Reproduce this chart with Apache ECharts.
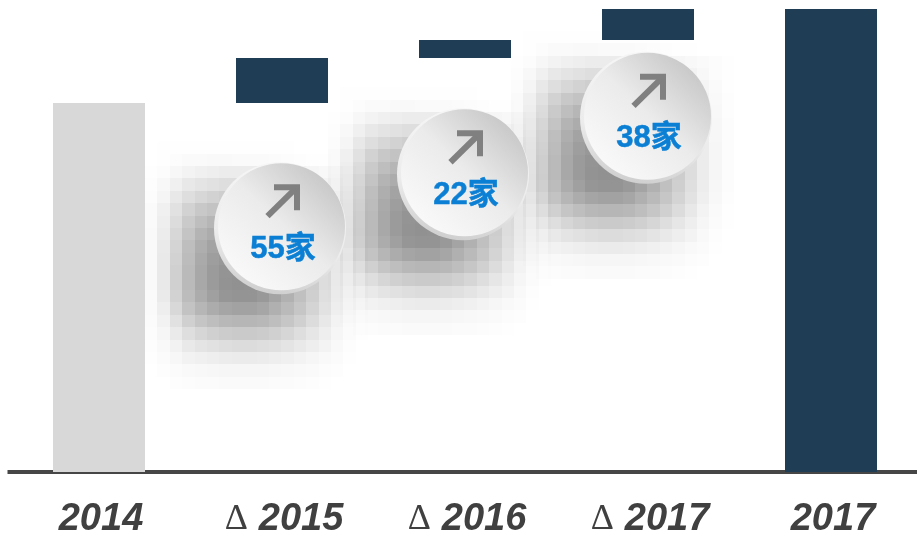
<!DOCTYPE html>
<html>
<head>
<meta charset="utf-8">
<title>chart</title>
<style>
html,body{margin:0;padding:0;background:#fff;overflow:hidden}
#main{width:917px;height:533px}
</style>
<script src="https://cdn.jsdelivr.net/npm/echarts@6/dist/echarts.min.js"></script>
</head>
<body>
<div id="main"></div>
<script>
var categories = ['2014', 'Δ 2015', 'Δ 2016', 'Δ 2017', '2017'];
var hiddenBase = [0, 451, 506, 528, 0];
var barValues = [451, 55, 22, 38, 566];
var badgeCategories = ['Δ 2015', 'Δ 2016', 'Δ 2017'];
var badgeLevels = [298, 364, 433];
var badgeTexts = ['55家', '22家', '38家'];
// grey level of each blocky shadow cell (255 = white)
var shadowGrays = [
	[255,254,254,254,254,254,254,254,254,254,254,254,255,255,255,255,255,255],
	[255,254,252,250,250,249,249,250,250,250,251,252,253,254,254,255,255,255],
	[254,252,247,243,240,238,236,236,236,236,238,240,243,246,248,250,252,254],
	[253,248,240,232,228,225,222,222,222,224,226,230,234,238,243,248,252,254],
	[252,245,232,222,215,210,206,205,205,207,210,215,222,230,238,245,250,254],
	[250,240,225,210,200,195,190,188,188,190,195,202,212,222,232,242,249,253],
	[250,238,220,202,190,182,178,175,175,178,185,193,205,216,228,240,248,253],
	[249,236,215,196,180,172,166,165,165,168,176,186,198,212,225,238,247,252],
	[249,234,212,190,174,163,157,155,155,160,170,180,194,208,223,237,247,252],
	[249,233,210,188,170,158,152,150,150,155,165,177,191,206,222,236,246,252],
	[249,233,208,186,168,155,148,146,147,152,162,175,190,205,221,236,246,252],
	[249,233,208,186,168,155,147,145,146,151,162,175,190,205,221,236,246,252],
	[250,234,210,188,172,160,150,148,148,153,164,177,192,207,223,237,247,252],
	[250,238,216,195,182,172,165,162,162,166,176,186,198,212,226,239,248,253],
	[251,242,225,208,197,190,184,182,182,184,190,198,208,220,232,243,250,254],
	[252,246,234,222,214,208,204,202,202,204,208,214,222,230,238,246,251,254],
	[253,249,242,233,228,225,222,220,220,222,224,228,233,238,243,249,253,255],
	[254,251,247,242,240,238,236,235,235,236,238,240,243,246,249,251,254,255],
	[255,253,251,249,248,247,246,246,246,246,247,248,249,250,252,253,255,255],
	[255,255,253,252,251,251,250,250,250,250,251,251,252,253,254,255,255,255]
];

var badgeData = badgeCategories.map(function (c, i) {
	return [c, badgeLevels[i], badgeTexts[i]];
});

function renderShadow(params, api) {
	var p = api.coord([api.value(0), api.value(1)]);
	var cx = p[0] - 2, cy = p[1];
	var cell = 12.4;
	var children = [];
	shadowGrays.forEach(function (row, r) {
		row.forEach(function (g, c) {
			if (g >= 255) return;
			var x0 = Math.round(cx - 135 + c * cell), x1 = Math.round(cx - 135 + (c + 1) * cell);
			var y0 = Math.round(cy - 87 + r * cell), y1 = Math.round(cy - 87 + (r + 1) * cell);
			children.push({
				type: 'rect',
				shape: { x: x0, y: y0, width: x1 - x0, height: y1 - y0 },
				style: { fill: 'rgba(0,0,0,' + ((255 - g) / 255).toFixed(3) + ')' }
			});
		});
	});
	return { type: 'group', children: children };
}

function renderBadge(params, api) {
	var p = api.coord([api.value(0), api.value(1)]);
	var cx = p[0] - 2, cy = p[1];
	var text = badgeTexts[params.dataIndex];
	return {
		type: 'group',
		children: [
			{
				type: 'circle',
				shape: { cx: cx, cy: cy, r: 66 },
				style: {
					fill: { type: 'linear', x: 0.5, y: 0, x2: 0.3, y2: 1, colorStops: [
						{ offset: 0, color: '#f6f6f6' },
						{ offset: 0.6, color: '#ececec' },
						{ offset: 1, color: '#cdcdcd' }
					] }
				}
			},
			{
				type: 'circle',
				shape: { cx: cx + 1.5, cy: cy - 1.5, r: 63.5 },
				style: {
					fill: { type: 'linear', x: 0.88, y: 0.1, x2: 0.15, y2: 0.88, colorStops: [
						{ offset: 0, color: '#c6c6c6' },
						{ offset: 0.5, color: '#ebebeb' },
						{ offset: 1, color: '#f9f9f9' }
					] }
				}
			},
			{
				type: 'polyline',
				shape: { points: [[cx - 6, cy - 41], [cx + 17, cy - 41], [cx + 17, cy - 18]] },
				style: { stroke: '#808080', lineWidth: 6, fill: null, lineJoin: 'miter', lineCap: 'butt' }
			},
			{
				type: 'line',
				shape: { x1: cx - 12.5, y1: cy - 12, x2: cx + 16, y2: cy - 40 },
				style: { stroke: '#808080', lineWidth: 6, lineCap: 'butt' }
			},
			{
				type: 'text',
				style: {
					text: text,
					x: cx + 3,
					y: cy + 21,
					align: 'center',
					verticalAlign: 'middle',
					fill: '#0a7fd4',
					stroke: '#0a7fd4',
					lineWidth: 0.5,
					font: 'bold 31px "Liberation Sans", "Noto Sans CJK SC", sans-serif'
				}
			}
		]
	};
}

var myChart = echarts.init(document.getElementById('main'), null, { renderer: 'canvas' });

var option = {
	animation: false,
	backgroundColor: '#fff',
	grid: {
		left: 7.5,
		width: 915,
		top: 9,
		bottom: 61,
		outerBoundsMode: 'none'
	},
	xAxis: {
		type: 'category',
		data: categories,
		axisTick: { show: false },
		axisLine: { lineStyle: { color: '#464646', width: 4, cap: 'butt' } },
		axisLabel: {
			interval: 0,
			margin: 29,
			padding: [0, 0, 0, 4],
			formatter: function (v) {
				if (v.charAt(0) === 'Δ') {
					return '{d|Δ}{y|' + v.slice(2) + '}';
				}
				return '{y|' + v + '}';
			},
			rich: {
				d: { fontFamily: 'Liberation Serif', fontSize: 36, color: '#404040', fontWeight: 'normal', padding: [0, 11, 0, 0] },
				y: { fontFamily: 'Liberation Sans', fontSize: 38, fontWeight: 'bold', fontStyle: 'italic', color: '#404040' }
			}
		}
	},
	yAxis: {
		type: 'value',
		min: 0,
		max: 566,
		show: false,
		splitLine: { show: false }
	},
	series: [
		{
			type: 'custom',
			z: 1,
			silent: true,
			clip: false,
			renderItem: renderShadow,
			encode: { x: 0, y: 1 },
			data: badgeData
		},
		{
			type: 'bar',
			stack: 'total',
			z: 2,
			barWidth: 92,
			silent: true,
			itemStyle: { color: 'transparent' },
			data: hiddenBase
		},
		{
			type: 'bar',
			stack: 'total',
			z: 2,
			barWidth: 92,
			silent: true,
			itemStyle: {
				color: function (params) {
					return params.dataIndex === 0 ? '#d8d8d8' : '#1f3d55';
				}
			},
			data: barValues
		},
		{
			type: 'custom',
			z: 3,
			silent: true,
			clip: false,
			renderItem: renderBadge,
			encode: { x: 0, y: 1 },
			data: badgeData
		}
	]
};

myChart.setOption(option);
</script>
</body>
</html>
